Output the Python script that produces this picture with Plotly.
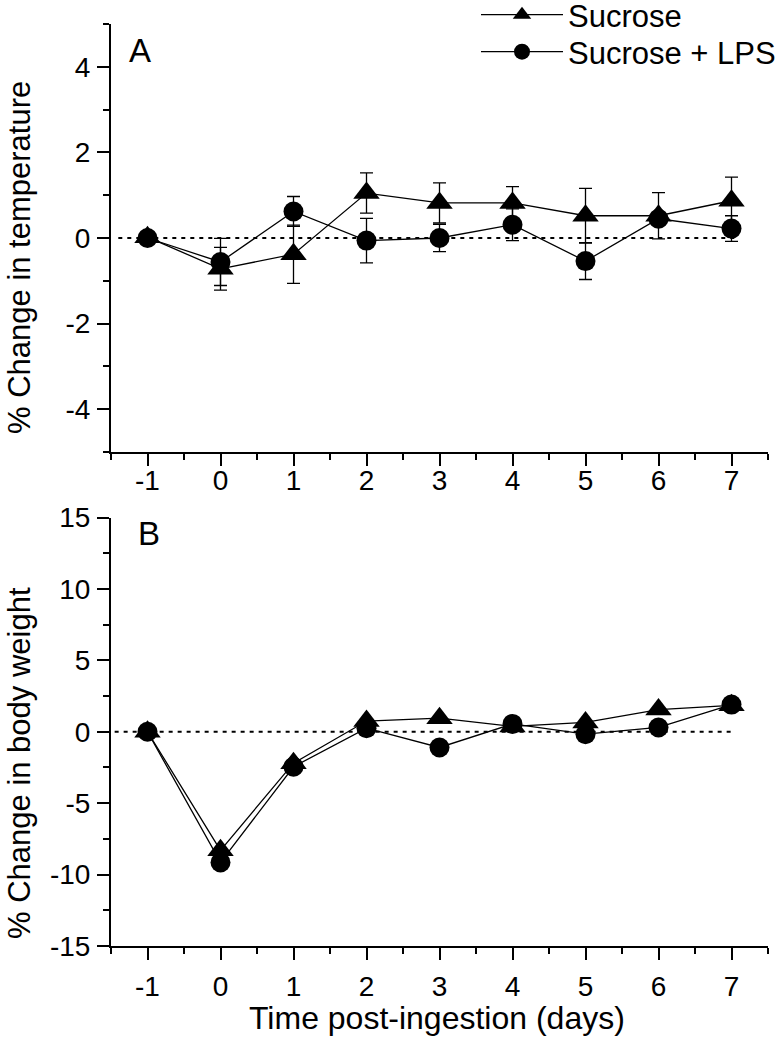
import plotly.graph_objects as go
from plotly.subplots import make_subplots

# ---- data ----
days = [-1, 0, 1, 2, 3, 4, 5, 6, 7]

temp_sucrose = [0.02, -0.72, -0.38, 1.05, 0.82, 0.82, 0.52, 0.52, 0.87]
temp_sucrose_err = [0.0, 0.50, 0.68, 0.47, 0.47, 0.38, 0.64, 0.54, 0.55]
temp_lps = [0.0, -0.56, 0.62, -0.06, 0.0, 0.31, -0.54, 0.45, 0.22]
temp_lps_err = [0.0, 0.55, 0.35, 0.52, 0.32, 0.37, 0.43, 0.15, 0.30]

weight_sucrose = [0.0, -8.3, -2.2, 0.75, 0.95, 0.37, 0.65, 1.55, 1.85]
weight_lps = [0.0, -9.15, -2.45, 0.25, -1.1, 0.55, -0.17, 0.3, 1.9]

series_names = ["Sucrose", "Sucrose + LPS"]
x_ticks = [-1, 0, 1, 2, 3, 4, 5, 6, 7]
temp_ticks = [-4, -2, 0, 2, 4]
weight_ticks = [-15, -10, -5, 0, 5, 10, 15]

FONT = "Liberation Sans, Arial, sans-serif"
W, H = 781, 1050
L, R, T, B = 111, 13, 24, 104
PH = H - T - B  # 922

def py(p):  # pixel y -> paper y
    return (H - B - p) / PH

def px(p):  # pixel x -> paper x
    return (p - L) / (W - L - R)

def labels(vals):
    return [str(v) for v in vals]  # plain hyphen-minus like the reference

fig = make_subplots(rows=2, cols=1, shared_xaxes=False, vertical_spacing=0.07)

tri = dict(symbol="triangle-up", size=23, color="black", line=dict(width=0))
circ = dict(symbol="circle", size=20, color="black", line=dict(width=0))
line_style = dict(color="black", width=1.3)

fig.add_trace(go.Scatter(
    x=days, y=temp_sucrose, mode="lines+markers", name=series_names[0],
    marker=tri, line=line_style, legend="legend",
    error_y=dict(type="data", array=temp_sucrose_err, color="black", thickness=1.3, width=6.5),
), row=1, col=1)
fig.add_trace(go.Scatter(
    x=days, y=temp_lps, mode="lines+markers", name=series_names[1],
    marker=circ, line=line_style, legend="legend2",
    error_y=dict(type="data", array=temp_lps_err, color="black", thickness=1.3, width=6.5),
), row=1, col=1)
fig.add_trace(go.Scatter(
    x=days, y=weight_sucrose, mode="lines+markers", name=series_names[0],
    marker=tri, line=line_style, showlegend=False,
), row=2, col=1)
fig.add_trace(go.Scatter(
    x=days, y=weight_lps, mode="lines+markers", name=series_names[1],
    marker=circ, line=line_style, showlegend=False,
), row=2, col=1)

# dotted zero reference lines
fig.add_shape(type="line", x0=-1.4, x1=7.1, y0=0, y1=0, xref="x", yref="y",
              line=dict(color="black", width=2, dash="4px,5px"), layer="below")
fig.add_shape(type="line", x0=-1.45, x1=7.0, y0=0, y1=0, xref="x2", yref="y2",
              line=dict(color="black", width=2, dash="4px,5px"), layer="below")

axis_common = dict(showline=True, linecolor="black", linewidth=2, mirror=False,
                   ticks="outside", ticklen=12, tickwidth=2, tickcolor="black",
                   showgrid=False, zeroline=False, automargin=False,
                   tickfont=dict(family=FONT, size=28, color="black"))

fig.update_xaxes(range=[-1.5, 7.5], tickmode="array", tickvals=x_ticks, ticktext=labels(x_ticks),
                 minor=dict(ticks="outside", ticklen=6, tickwidth=2, tickcolor="black", dtick=0.5, tick0=-1.5),
                 **axis_common)
fig.update_xaxes(ticklabelstandoff=-10, row=1, col=1)
fig.update_xaxes(ticklabelstandoff=2, row=2, col=1)
fig.update_yaxes(range=[-5, 5], tickmode="array", tickvals=temp_ticks, ticktext=labels(temp_ticks),
                 minor=dict(ticks="outside", ticklen=6, tickwidth=2, tickcolor="black", dtick=1, tick0=-5),
                 domain=[py(452), 1.0], ticklabelstandoff=1, row=1, col=1, **axis_common)
fig.update_yaxes(range=[-15, 15], tickmode="array", tickvals=weight_ticks, ticktext=labels(weight_ticks),
                 minor=dict(ticks="outside", ticklen=6, tickwidth=2, tickcolor="black", dtick=2.5, tick0=-15),
                 domain=[0.0, py(517.5)], ticklabelstandoff=1, row=2, col=1, **axis_common)

annots = [
    dict(text="A", x=px(127), y=py(50), xanchor="left", yanchor="middle", font=dict(size=33)),
    dict(text="B", x=px(136), y=py(533), xanchor="left", yanchor="middle", font=dict(size=33)),
    dict(text="% Change in temperature", x=px(19), y=py(258), textangle=-90,
         xanchor="center", yanchor="middle", font=dict(size=31)),
    dict(text="% Change in body weight", x=px(19), y=py(763), textangle=-90,
         xanchor="center", yanchor="middle", font=dict(size=31)),
    dict(text="Time post-ingestion (days)", x=px(437), y=py(1018),
         xanchor="center", yanchor="middle", font=dict(size=32)),
]
for a in annots:
    a["font"].update(family=FONT, color="black")
    fig.add_annotation(xref="paper", yref="paper", showarrow=False, **a)

leg_common = dict(xanchor="left", yanchor="top",
                  font=dict(family=FONT, size=31, color="black"),
                  bgcolor="rgba(0,0,0,0)", itemwidth=82, tracegroupgap=0)

fig.update_layout(
    width=W, height=H,
    margin=dict(l=L, r=R, t=T, b=B, autoexpand=False),
    paper_bgcolor="white", plot_bgcolor="white",
    font=dict(family=FONT, color="black"),
    legend=dict(x=px(476), y=py(-12), **leg_common),
    legend2=dict(x=px(476), y=py(25), **leg_common),
)

fig.write_html("out.html", config={"displayModeBar": False},
               post_script="document.body.style.margin='0';")
